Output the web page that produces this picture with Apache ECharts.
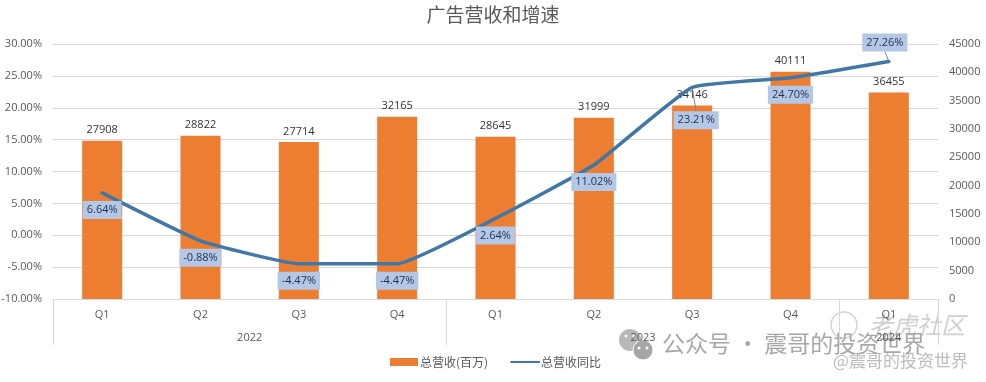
<!DOCTYPE html>
<html>
<head>
<meta charset="utf-8">
<script src="https://cdn.jsdelivr.net/npm/echarts@6/dist/echarts.min.js"></script>
<style>
html, body { margin: 0; padding: 0; background: #fff; }
#chart { width: 986px; height: 382px; }
</style>
</head>
<body>
<div id="chart"></div>
<script>
const quarters = ['Q1', 'Q2', 'Q3', 'Q4', 'Q1', 'Q2', 'Q3', 'Q4', 'Q1']
const revenue = [27908, 28822, 27714, 32165, 28645, 31999, 34146, 40111, 36455]
const growth = [6.64, -0.88, -4.47, -4.47, 2.64, 11.02, 23.21, 24.7, 27.26]
const years = ['2022', '2023', '2024']
const yearEdges = [0, 4, 8, 9]
const yearCenters = [2, 6, 8.5]

// 标签相对数据点的偏移
const labelDx = [0, 0, 0, 0, 0, 0, 4, 0, -4]
const labelDy = [17, 17, 17, 17, 17, 17, 33, 17, -19]
const leaderLine = [6, 8]

const font = '"Open Sans", "Noto Sans CJK SC", sans-serif'
const cjk = '"Noto Sans CJK SC", sans-serif'
const textColor = '#595959'
const gridColor = '#d9d9d9'
const lineColor = '#3f77a6'

const chart = echarts.init(document.getElementById('chart'))

chart.setOption({
  animation: false,
  backgroundColor: '#fff',
  title: {
    text: '广告营收和增速',
    left: 'center',
    top: 0,
    textStyle: { fontFamily: cjk, fontSize: 19, fontWeight: 'normal', color: textColor },
  },
  legend: {
    bottom: 9,
    left: 385,
    itemWidth: 28,
    itemHeight: 8,
    itemGap: 22,
    textStyle: { fontFamily: cjk, fontSize: 12, color: textColor, padding: [0, 0, 0, -3] },
    data: [
      { name: '总营收(百万)', icon: 'rect' },
      { name: '总营收同比', itemStyle: { opacity: 0 } },
    ],
  },
  grid: { left: 53, right: 48, top: 44, bottom: 83, outerBoundsMode: 'none' },
  xAxis: [
    {
      type: 'category',
      data: quarters,
      axisLine: { lineStyle: { color: gridColor } },
      axisTick: { show: false },
      axisLabel: { fontFamily: font, fontSize: 11, color: textColor, margin: 10 },
    },
    {
      type: 'value',
      position: 'bottom',
      min: 0,
      max: 9,
      splitLine: { show: false },
      axisLine: { show: false },
      axisTick: { show: true, length: 46, customValues: yearEdges, lineStyle: { color: gridColor } },
      axisLabel: {
        customValues: yearCenters,
        fontFamily: font,
        fontSize: 11,
        color: textColor,
        margin: 33,
        formatter: (v) => years[yearCenters.indexOf(v)],
      },
    },
  ],
  yAxis: [
    {
      type: 'value',
      min: -10,
      max: 30,
      interval: 5,
      splitLine: { lineStyle: { color: gridColor } },
      axisLine: { show: false },
      axisTick: { show: false },
      axisLabel: {
        fontFamily: font,
        fontSize: 11,
        color: textColor,
        margin: 11,
        formatter: (v) => v.toFixed(2) + '%',
      },
    },
    {
      type: 'value',
      position: 'right',
      min: 0,
      max: 45000,
      interval: 5000,
      splitLine: { show: false },
      axisLine: { show: false },
      axisTick: { show: false },
      axisLabel: { fontFamily: font, fontSize: 11, color: textColor, margin: 11, formatter: (v) => String(v) },
    },
  ],
  series: [
    {
      name: '总营收(百万)',
      type: 'bar',
      yAxisIndex: 1,
      data: revenue,
      barWidth: 40,
      itemStyle: { color: '#ed7d31' },
      label: {
        show: true,
        position: 'top',
        distance: 5,
        fontFamily: font,
        fontSize: 11,
        color: '#333',
      },
    },
    {
      name: '总营收同比',
      type: 'line',
      yAxisIndex: 0,
      smooth: 0.12,
      symbol: 'circle',
      symbolSize: 1,
      showAllSymbol: true,
      lineStyle: { color: lineColor, width: 3.5, cap: 'round' },
      itemStyle: { color: lineColor },
      z: 5,
      data: growth.map((v, i) => ({
        value: v,
        labelLine: { show: leaderLine.includes(i), lineStyle: { color: '#7f7f7f', width: 1 } },
      })),
      label: {
        show: true,
        position: 'inside',
        fontFamily: font,
        fontSize: 11,
        color: '#1f3048',
        backgroundColor: '#b4c7e7',
        padding: [4, 4, 3, 4],
        formatter: (p) => growth[p.dataIndex].toFixed(2) + '%',
      },
      labelLayout: (p) => ({ dx: labelDx[p.dataIndex], dy: labelDy[p.dataIndex] }),
    },
  ],
  graphic: [
    // 公众号水印
    { type: 'circle', shape: { cx: 630, cy: 340, r: 11 }, style: { fill: '#b8b8b8' } },
    { type: 'circle', shape: { cx: 643, cy: 350, r: 10 }, style: { fill: '#a6a6a6', stroke: '#fff', lineWidth: 1 } },
    { type: 'circle', shape: { cx: 626, cy: 336, r: 1.5 }, style: { fill: '#fff' } },
    { type: 'circle', shape: { cx: 634, cy: 336, r: 1.5 }, style: { fill: '#fff' } },
    { type: 'circle', shape: { cx: 639, cy: 348, r: 1.5 }, style: { fill: '#fff' } },
    { type: 'circle', shape: { cx: 647, cy: 348, r: 1.5 }, style: { fill: '#fff' } },
    { type: 'text', left: 662, top: 332, style: { text: '公众号 · 震哥的投资世界', fontFamily: cjk, fontSize: 23, fill: 'rgba(130,130,130,0.7)' } },
    { type: 'text', left: 869, top: 313, style: { text: '老虎社区', fontFamily: cjk, fontSize: 24, fontStyle: 'italic', fill: 'rgba(160,160,160,0.5)' } },
    { type: 'circle', shape: { cx: 844, cy: 325, r: 13 }, style: { fill: 'none', stroke: 'rgba(170,170,170,0.5)', lineWidth: 1.5 } },
    { type: 'text', left: 833, top: 352, style: { text: '@震哥的投资世界', fontFamily: cjk, fontSize: 17, fill: 'rgba(160,160,160,0.7)' } },
  ],
})
</script>
</body>
</html>
